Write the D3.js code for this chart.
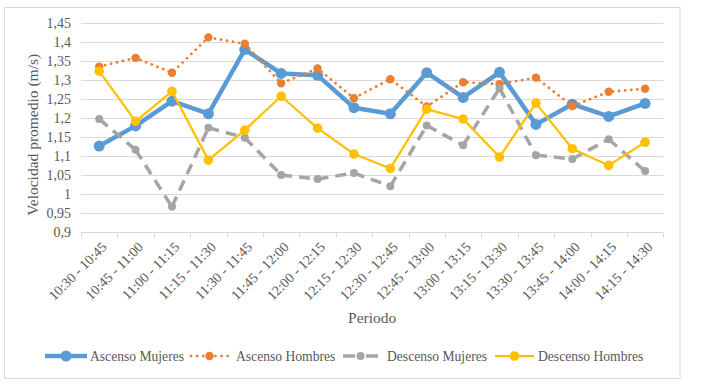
<!DOCTYPE html>
<html>
<head>
<meta charset="utf-8">
<script src="https://cdn.jsdelivr.net/npm/d3@7"></script>
<style>
  body { margin: 0; background: #fff; }
  svg text { fill: #595959; }
</style>
</head>
<body>
<div id="chart"></div>
<script>
const width = 706;
const height = 384;

// data
const periods = ["10:30 - 10:45", "10:45 - 11:00", "11:00 - 11:15", "11:15 - 11:30",
    "11:30 - 11:45", "11:45 - 12:00", "12:00 - 12:15", "12:15 - 12:30", "12:30 - 12:45",
    "12:45 - 13:00", "13:00 - 13:15", "13:15 - 13:30", "13:30 - 13:45", "13:45 - 14:00",
    "14:00 - 14:15", "14:15 - 14:30"];
const ascensoMujeres = [1.127, 1.180, 1.245, 1.212, 1.381, 1.318, 1.313, 1.228, 1.212,
    1.320, 1.255, 1.321, 1.184, 1.237, 1.205, 1.239];
const ascensoHombres = [1.336, 1.359, 1.320, 1.413, 1.396, 1.292, 1.331, 1.253, 1.303,
    1.231, 1.295, 1.290, 1.307, 1.232, 1.270, 1.278];
const descensoMujeres = [1.198, 1.117, 0.967, 1.175, 1.149, 1.051, 1.040, 1.056, 1.021,
    1.181, 1.129, 1.279, 1.103, 1.093, 1.145, 1.061];
const descensoHombres = [1.324, 1.192, 1.271, 1.090, 1.169, 1.258, 1.174, 1.106, 1.068,
    1.224, 1.198, 1.098, 1.240, 1.120, 1.076, 1.137];
const yTicks = [0.9, 0.95, 1, 1.05, 1.1, 1.15, 1.2, 1.25, 1.3, 1.35, 1.4, 1.45];

const series = [
    {name: "Ascenso Mujeres", values: ascensoMujeres, color: "#5B9BD5", width: 4.5, dash: null, r: 5.5},
    {name: "Ascenso Hombres", values: ascensoHombres, color: "#ED7D31", width: 2.75, dash: "0.1,6", r: 4.2, cap: "round"},
    {name: "Descenso Mujeres", values: descensoMujeres, color: "#A5A5A5", width: 3.5, dash: "11,7", r: 4, perSegment: true},
    {name: "Descenso Hombres", values: descensoHombres, color: "#FFC000", width: 2.25, dash: null, r: 4.8}
];

const svg = d3.select("#chart")
    .append("svg")
    .attr("width", width)
    .attr("height", height)
    .attr("font-family", "'Liberation Serif', 'Times New Roman', serif");

// outer chart border
svg.append("rect")
    .attr("x", 4.5).attr("y", 7.5)
    .attr("width", 675.5).attr("height", 371)
    .attr("fill", "#fff")
    .attr("stroke", "#D9D9D9");

const plotLeft = 81, plotRight = 663.3, plotTop = 23.3, plotBottom = 232.3;

const x = d3.scaleBand().domain(periods).range([plotLeft, plotRight]);
const y = d3.scaleLinear().domain([0.9, 1.45]).range([plotBottom, plotTop]);

// gridlines
svg.append("g")
    .selectAll("line")
    .data(yTicks)
    .join("line")
    .attr("x1", plotLeft).attr("x2", plotRight)
    .attr("y1", d => Math.round(y(d)) + 0.5)
    .attr("y2", d => Math.round(y(d)) + 0.5)
    .attr("stroke", "#D9D9D9")
    .attr("stroke-width", 1);

// y tick labels
svg.append("g")
    .selectAll("text")
    .data(yTicks)
    .join("text")
    .attr("x", 71)
    .attr("y", d => y(d))
    .attr("dy", "0.35em")
    .attr("text-anchor", "end")
    .style("font-size", "14px")
    .text(d => d3.format(".2~f")(d).replace(".", ","));

// x axis tick marks (between categories)
const bounds = periods.map(p => x(p)).concat([plotRight]);
svg.append("g")
    .selectAll("line")
    .data(bounds)
    .join("line")
    .attr("x1", d => Math.round(d) + 0.5).attr("x2", d => Math.round(d) + 0.5)
    .attr("y1", Math.round(plotBottom) + 0.5).attr("y2", Math.round(plotBottom) + 5.5)
    .attr("stroke", "#D9D9D9");

// x tick labels rotated
svg.append("g")
    .selectAll("text")
    .data(periods)
    .join("text")
    .attr("text-anchor", "end")
    .attr("dy", "0.35em")
    .attr("transform", d => `translate(${x(d) + x.bandwidth() / 2 + 5},${plotBottom + 12}) rotate(-45)`)
    .style("font-size", "14px")
    .text(d => d);

// axis titles
svg.append("text")
    .attr("transform", `translate(38,${(plotTop + plotBottom) / 2 + 7}) rotate(-90)`)
    .attr("text-anchor", "middle")
    .style("font-size", "15.5px")
    .text("Velocidad promedio (m/s)");

svg.append("text")
    .attr("x", (plotLeft + plotRight) / 2)
    .attr("y", 323)
    .attr("text-anchor", "middle")
    .style("font-size", "15.5px")
    .text("Periodo");

const cx = (d, i) => x(periods[i]) + x.bandwidth() / 2;
const line = d3.line().x((d, i) => cx(d, i)).y(d => y(d));

series.forEach(s => {
    const g = svg.append("g");
    if (s.perSegment) {
        // dash pattern restarts at every point, like the original
        const segs = d3.pairs(s.values.map((v, i) => [cx(v, i), y(v)]));
        g.selectAll("path")
            .data(segs)
            .join("path")
            .attr("d", d => d3.line()(d))
            .attr("fill", "none")
            .attr("stroke", s.color)
            .attr("stroke-width", s.width)
            .attr("stroke-dasharray", s.dash);
    } else {
        g.append("path")
            .attr("d", line(s.values))
            .attr("fill", "none")
            .attr("stroke", s.color)
            .attr("stroke-width", s.width)
            .attr("stroke-linejoin", "round")
            .attr("stroke-linecap", s.cap || "butt")
            .attr("stroke-dasharray", s.dash);
    }
    g.selectAll("circle")
        .data(s.values)
        .join("circle")
        .attr("cx", (d, i) => cx(d, i))
        .attr("cy", d => y(d))
        .attr("r", s.r)
        .attr("fill", s.color);
});

// legend
const legendY = 356;
const legendPos = [
    {x1: 45, x2: 87, tx: 90},
    {x1: 191, x2: 228, tx: 236},
    {x1: 343, x2: 378, tx: 387},
    {x1: 495, x2: 534, tx: 538}
];
series.forEach((s, i) => {
    const p = legendPos[i];
    const g = svg.append("g");
    if (s.perSegment) {
        g.append("line").attr("x1", p.x1).attr("x2", p.x1 + 12)
            .attr("y1", legendY).attr("y2", legendY)
            .attr("stroke", s.color).attr("stroke-width", s.width);
        g.append("line").attr("x1", p.x2 - 12).attr("x2", p.x2)
            .attr("y1", legendY).attr("y2", legendY)
            .attr("stroke", s.color).attr("stroke-width", s.width);
    } else {
        g.append("line").attr("x1", p.x1).attr("x2", p.x2)
            .attr("y1", legendY).attr("y2", legendY)
            .attr("stroke", s.color).attr("stroke-width", s.width)
            .attr("stroke-linecap", s.cap || "butt")
            .attr("stroke-dasharray", s.dash);
    }
    g.append("circle")
        .attr("cx", (p.x1 + p.x2) / 2).attr("cy", legendY)
        .attr("r", s.r).attr("fill", s.color);
    g.append("text")
        .attr("x", p.tx).attr("y", legendY).attr("dy", "0.35em")
        .style("font-size", "13.6px")
        .text(s.name);
});
</script>
</body>
</html>
